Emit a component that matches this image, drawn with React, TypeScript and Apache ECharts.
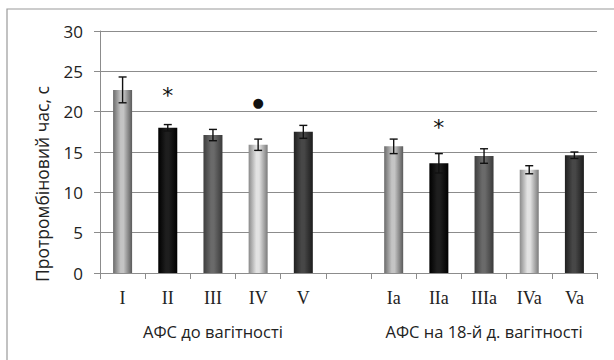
import React, { useEffect, useRef } from "react";
import * as echarts from "echarts";

const categories = ["I", "II", "III", "IV", "V", "", "Ia", "IIa", "IIIa", "IVa", "Va"];
const values: (number | null)[] = [22.7, 18.0, 17.1, 15.9, 17.5, null, 15.7, 13.6, 14.5, 12.8, 14.6];
const errors: (number | null)[] = [1.6, 0.4, 0.7, 0.7, 0.8, null, 0.9, 1.2, 0.9, 0.5, 0.4];
const yTicks = [0, 5, 10, 15, 20, 25, 30];
const groupLabels = ["АФС до вагітності", "АФС на 18-й д. вагітності"];
const annotations: [number, number, string][] = [
  [1, 22.6, "*"],
  [3, 21.1, "●"],
  [7, 18.7, "*"],
];
const yName = "Протромбіновий час, с";

const palette: [string, string, string][] = [
  ["#6a6a6a", "#c4c4c4", "#5a5a5a"],
  ["#000000", "#1e1e1e", "#000000"],
  ["#3e3e3e", "#6a6a6a", "#3a3a3a"],
  ["#8a8a8a", "#e2e2e2", "#7a7a7a"],
  ["#202020", "#474747", "#1c1c1c"],
];

function grad(i: number) {
  const p = palette[i % 5];
  return new echarts.graphic.LinearGradient(0, 0, 1, 0, [
    { offset: 0, color: p[0] },
    { offset: 0.4, color: p[1] },
    { offset: 0.55, color: p[1] },
    { offset: 1, color: p[2] },
  ]);
}

export default function App() {
  const ref = useRef<HTMLDivElement>(null);
  useEffect(() => {
    if (!ref.current) return;
    const chart = echarts.init(ref.current, undefined, { renderer: "svg" });
    const barData = values.map((v, i) => {
      if (v === null) return "-";
      const gi = i < 5 ? i : i - 6;
      return { value: v, itemStyle: { color: grad(gi) } };
    });
    const errData = values
      .map((v, i) => (v === null ? null : [i, v - (errors[i] as number), v + (errors[i] as number)]))
      .filter((d) => d !== null);
    const left = 100;
    const right = 17;
    const plotW = 614 - left - right;
    const slot = plotW / categories.length;
    chart.setOption({
      animation: false,
      backgroundColor: "#ffffff",
      grid: { left, right, top: 31, bottom: 87 },
      xAxis: {
        type: "category",
        data: categories,
        axisLine: { lineStyle: { color: "#8c8c8c", width: 1 } },
        axisTick: { show: true, alignWithLabel: false, length: 6, lineStyle: { color: "#8c8c8c" } },
        axisLabel: {
          color: "#222",
          fontFamily: "Liberation Serif",
          fontSize: 18,
          margin: 16,
          interval: 0,
        },
      },
      yAxis: {
        type: "value",
        min: yTicks[0],
        max: yTicks[yTicks.length - 1],
        interval: 5,
        axisLine: { show: true, lineStyle: { color: "#8c8c8c" } },
        axisTick: { show: true, length: 6, lineStyle: { color: "#8c8c8c" } },
        axisLabel: { color: "#222", fontFamily: "Open Sans", fontSize: 17, margin: 17 },
        splitLine: { lineStyle: { color: "#8c8c8c", width: 1 } },
      },
      series: [
        {
          type: "bar",
          data: barData,
          barWidth: 19,
          z: 2,
        },
        {
          type: "custom",
          z: 5,
          data: errData,
          renderItem: (params: any, api: any) => {
            const x = api.value(0);
            const lo = api.coord([x, api.value(1)]);
            const hi = api.coord([x, api.value(2)]);
            const cw = 4;
            const st = { stroke: "#111", lineWidth: 1.4, fill: "none" };
            return {
              type: "group",
              children: [
                { type: "line", shape: { x1: hi[0], y1: hi[1], x2: lo[0], y2: lo[1] }, style: st },
                { type: "line", shape: { x1: hi[0] - cw, y1: hi[1], x2: hi[0] + cw, y2: hi[1] }, style: st },
                { type: "line", shape: { x1: lo[0] - cw, y1: lo[1], x2: lo[0] + cw, y2: lo[1] }, style: st },
              ],
            };
          },
        },
        {
          type: "custom",
          z: 6,
          data: annotations.map((a) => [a[0], a[1]]),
          renderItem: (params: any, api: any) => {
            const a = annotations[params.dataIndex];
            const p = api.coord([api.value(0), api.value(1)]);
            const isStar = a[2] === "*";
            return {
              type: "text",
              x: p[0],
              y: p[1] + (isStar ? 5 : 0),
              style: {
                text: a[2],
                fill: "#111",
                font: isStar ? "22px 'DejaVu Sans'" : "13px 'DejaVu Sans'",
                align: "center",
                verticalAlign: "middle",
              },
            };
          },
        },
      ],
      graphic: [
        {
          type: "rect",
          silent: true,
          shape: { x: 7, y: 9, width: 640, height: 380 },
          style: { fill: "none", stroke: "#9a9a9a", lineWidth: 1.2 },
        },
        {
          type: "text",
          x: 42,
          y: 184,
          rotation: Math.PI / 2,
          style: {
            text: yName,
            fill: "#222",
            font: "17.5px 'Open Sans'",
            align: "center",
            verticalAlign: "middle",
          },
        },
        {
          type: "text",
          x: left + 2.5 * slot,
          y: 331,
          style: {
            text: groupLabels[0],
            fill: "#222",
            font: "16.5px 'Open Sans'",
            align: "center",
            verticalAlign: "middle",
          },
        },
        {
          type: "text",
          x: left + 8.5 * slot,
          y: 331,
          style: {
            text: groupLabels[1],
            fill: "#222",
            font: "16.5px 'Open Sans'",
            align: "center",
            verticalAlign: "middle",
          },
        },
      ],
    });
    return () => chart.dispose();
  }, []);
  return <div ref={ref} style={{ width: 614, height: 360, position: "absolute", left: 0, top: 0 }} />;
}
